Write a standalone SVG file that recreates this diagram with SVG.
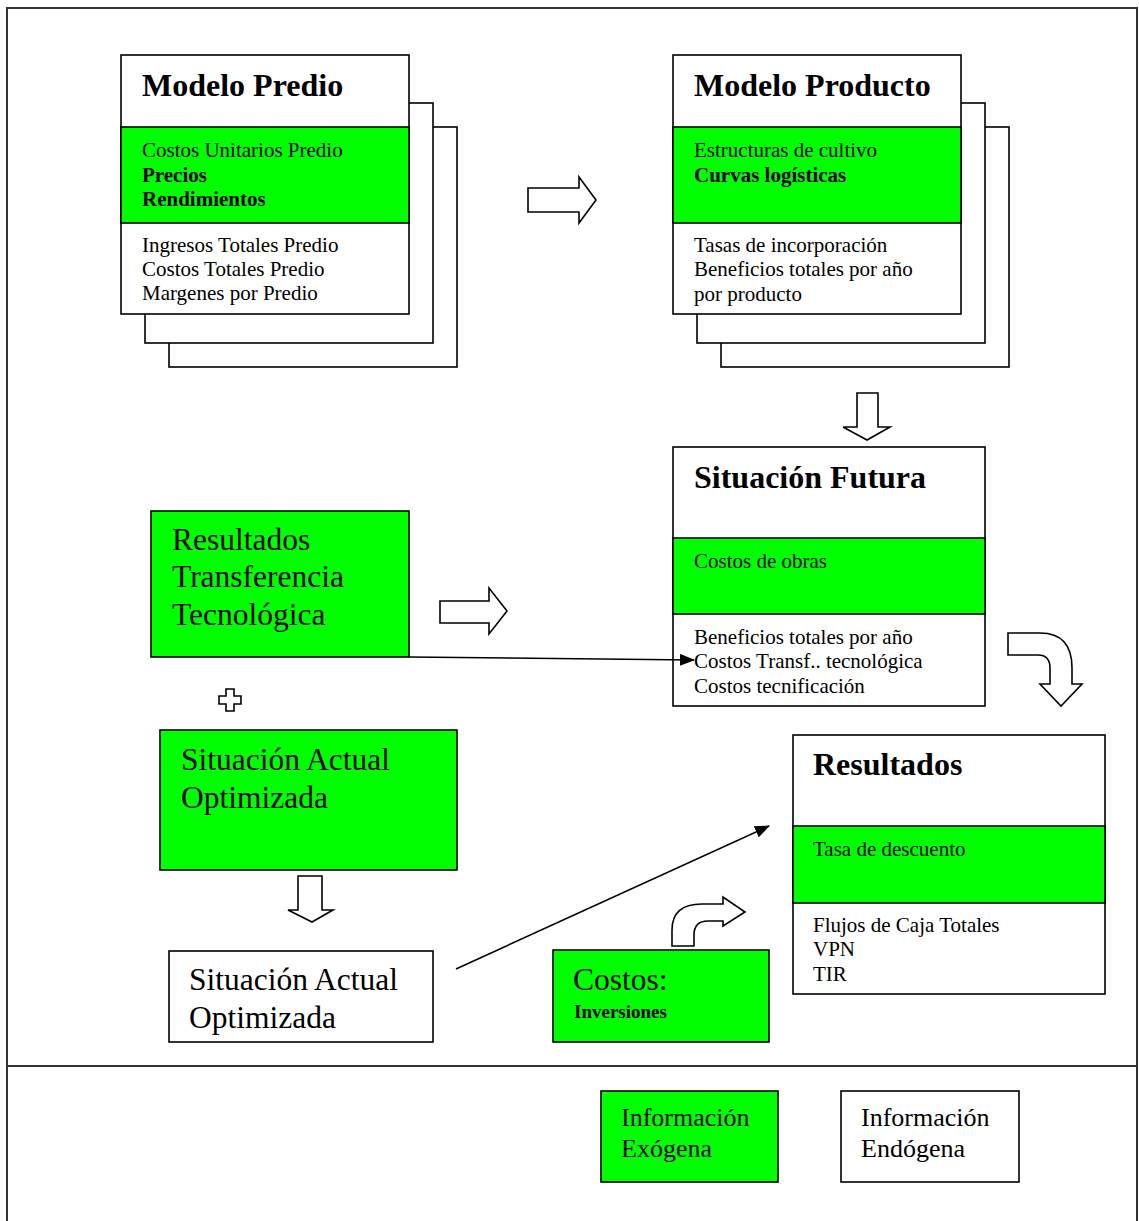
<svg xmlns="http://www.w3.org/2000/svg" width="1139" height="1221" viewBox="0 0 1139 1221">
  <style>
    .frame { fill: none; stroke: #333; stroke-width: 2; }
    .box { fill: #fff; stroke: #000; stroke-width: 1.6; }
    .green { fill: #00ff00; stroke: #000; stroke-width: 1.6; }
    .blk { fill: #fff; stroke: #000; stroke-width: 1.6; stroke-linejoin: miter; }
    .conn { fill: none; stroke: #000; stroke-width: 1.6; }
    text { font-family: "Liberation Serif", "Times New Roman", serif; fill: #000; }
    .title { font-size: 32px; font-weight: bold; }
    .body { font-size: 21px; }
    .bold { font-weight: bold; }
    .big { font-size: 31.5px; }
    .legend { font-size: 26px; }
  </style>
  <defs>
    <marker id="arrow" viewBox="0 0 15 12" refX="14" refY="6" markerWidth="15" markerHeight="12" markerUnits="userSpaceOnUse" orient="auto">
      <path d="M0,0 L15,6 L0,12 Z" fill="#000"/>
    </marker>
  </defs>

  <rect width="1139" height="1221" fill="#fff"/>

  <!-- outer frame and legend divider -->
  <g id="frame">
    <path class="frame" d="M7,1221 V8 H1137 V1221"/>
    <line class="frame" x1="7" y1="1066" x2="1137" y2="1066"/>
  </g>

  <!-- Modelo Predio (stacked sheets) -->
  <g id="modelo-predio">
    <rect class="box" x="169" y="127" width="288" height="240"/>
    <rect class="box" x="145" y="103" width="288" height="240"/>
    <rect class="box" x="121" y="55" width="288" height="259"/>
    <rect class="green" x="121" y="127" width="288" height="96"/>
    <text class="title" x="142" y="96">Modelo Predio</text>
    <text class="body" x="142" y="157">Costos Unitarios Predio</text>
    <text class="body bold" x="142" y="182">Precios</text>
    <text class="body bold" x="142" y="206">Rendimientos</text>
    <text class="body" x="142" y="252">Ingresos Totales Predio</text>
    <text class="body" x="142" y="276">Costos Totales Predio</text>
    <text class="body" x="142" y="300">Margenes por Predio</text>
  </g>

  <!-- Modelo Producto (stacked sheets) -->
  <g id="modelo-producto">
    <rect class="box" x="721" y="127" width="288" height="240"/>
    <rect class="box" x="697" y="103" width="288" height="240"/>
    <rect class="box" x="673" y="55" width="288" height="259"/>
    <rect class="green" x="673" y="127" width="288" height="96"/>
    <text class="title" x="694" y="96">Modelo Producto</text>
    <text class="body" x="694" y="157">Estructuras de cultivo</text>
    <text class="body bold" x="694" y="182">Curvas logísticas</text>
    <text class="body" x="694" y="252">Tasas de incorporación</text>
    <text class="body" x="694" y="276">Beneficios totales por año</text>
    <text class="body" x="694" y="301">por producto</text>
  </g>

  <!-- Situación Futura -->
  <g id="situacion-futura">
    <rect class="box" x="673" y="447" width="312" height="259"/>
    <rect class="green" x="673" y="538" width="312" height="76"/>
    <text class="title" x="694" y="488">Situación Futura</text>
    <text class="body" x="694" y="568">Costos de obras</text>
    <text class="body" x="694" y="644">Beneficios totales por año</text>
    <text class="body" x="694" y="668">Costos Transf.. tecnológica</text>
    <text class="body" x="694" y="693">Costos tecnificación</text>
  </g>

  <!-- Resultados Transferencia Tecnológica -->
  <g id="resultados-tt">
    <rect class="green" x="151" y="511" width="258" height="146"/>
    <text class="big" x="172" y="550">Resultados</text>
    <text class="big" x="172" y="587">Transferencia</text>
    <text class="big" x="172" y="625">Tecnológica</text>
  </g>

  <!-- Situación Actual Optimizada (exogenous) -->
  <g id="sao-exogena">
    <rect class="green" x="160" y="730" width="297" height="140"/>
    <text class="big" x="181" y="770">Situación Actual</text>
    <text class="big" x="181" y="808">Optimizada</text>
  </g>

  <!-- Situación Actual Optimizada (endogenous) -->
  <g id="sao-endogena">
    <rect class="box" x="169" y="951" width="264" height="91"/>
    <text class="big" x="189" y="990">Situación Actual</text>
    <text class="big" x="189" y="1028">Optimizada</text>
  </g>

  <!-- Costos: Inversiones -->
  <g id="costos">
    <rect class="green" x="553" y="950" width="216" height="92"/>
    <text class="big" x="573" y="990">Costos:</text>
    <text class="body bold" x="574" y="1018" style="font-size:19px">Inversiones</text>
  </g>

  <!-- Resultados -->
  <g id="resultados">
    <rect class="box" x="793" y="735" width="312" height="259"/>
    <rect class="green" x="793" y="826" width="312" height="77"/>
    <text class="title" x="813" y="775">Resultados</text>
    <text class="body" x="813" y="856">Tasa de descuento</text>
    <text class="body" x="813" y="932">Flujos de Caja Totales</text>
    <text class="body" x="813" y="956">VPN</text>
    <text class="body" x="813" y="981">TIR</text>
  </g>

  <!-- legend -->
  <g id="legend-exogena">
    <rect class="green" x="601" y="1091" width="177" height="91"/>
    <text class="legend" x="621" y="1126">Información</text>
    <text class="legend" x="621" y="1157">Exógena</text>
  </g>
  <g id="legend-endogena">
    <rect class="box" x="841" y="1091" width="178" height="91"/>
    <text class="legend" x="861" y="1126">Información</text>
    <text class="legend" x="861" y="1157">Endógena</text>
  </g>

  <!-- connectors: block arrows, plus sign and line arrows -->
  <g id="connectors">
    <!-- Modelo Predio to Modelo Producto -->
    <path class="blk" d="M528,188 H579 V177 L596,200 L579,223 V212 H528 Z"/>
    <!-- Modelo Producto to Situación Futura -->
    <path class="blk" d="M857,393 H878 V427 H890 L867,440 L843,427 H857 Z"/>
    <!-- Transferencia Tecnológica to Situación Futura -->
    <path class="blk" d="M440,601 H489 V588 L507,611 L489,634 V623 H440 Z"/>
    <!-- plus sign -->
    <path class="blk" d="M226,689 H234 V696 H241 V704 H234 V711 H226 V704 H219 V696 H226 Z"/>
    <!-- Situación Actual Optimizada down -->
    <path class="blk" d="M298,876 H322 V910 H333 L312,922 L288,910 H298 Z"/>
    <!-- Situación Futura to Resultados (curved) -->
    <path class="blk" d="M1008,633 H1040 Q1072,633 1072,668 V684 H1082 L1061,706 L1040,684 H1050 V668 Q1050,655 1038,655 H1008 Z"/>
    <!-- Costos to Resultados (curved) -->
    <path class="blk" d="M672,946 V930 Q672,904 702,904 H723 V897 L745,912 L723,926 V921 H708 Q694,921 694,935 V946 Z"/>
    <!-- line arrows -->
    <path class="conn" d="M409,657 L694,660" marker-end="url(#arrow)"/>
    <path class="conn" d="M456,969 L769,826" marker-end="url(#arrow)"/>
  </g>
</svg>
